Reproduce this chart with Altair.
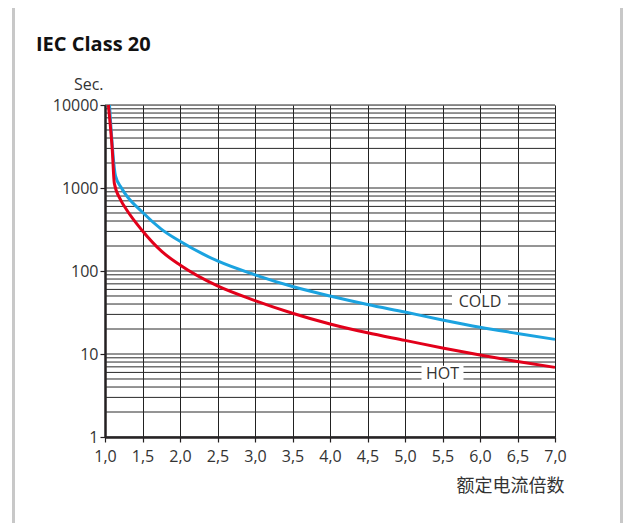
import altair as alt
import pandas as pd

# ---- data ----
cold_x = [1.06, 1.14, 1.22, 1.5, 1.75, 2.0, 2.5, 3.0, 3.5, 4.0, 4.5, 5.0, 5.5, 6.0, 6.5, 7.0]
cold_y = [10000, 1400, 1000, 510, 320, 228, 132, 90, 65, 50, 39.5, 32, 25.7, 21, 17.7, 15]

hot_x = [1.045, 1.097, 1.124, 1.21, 1.29, 1.49, 1.76, 2.0, 2.5, 3.0, 3.5, 4.0, 4.5, 5.0, 5.5, 6.0, 6.5, 7.0]
hot_y = [10000, 2870, 1140, 716, 543, 312, 171, 118, 66, 44, 31, 23, 18, 14.6, 11.8, 9.7, 8.1, 6.9]

x_ticks = [1.0, 1.5, 2.0, 2.5, 3.0, 3.5, 4.0, 4.5, 5.0, 5.5, 6.0, 6.5, 7.0]
y_ticks = [1, 10, 100, 1000, 10000]
grid_y = [1, 2, 3, 4, 5, 6, 7, 8, 9,
          10, 20, 30, 40, 50, 60, 70, 80, 90,
          100, 200, 300, 400, 500, 600, 700, 800, 900,
          1000, 2000, 3000, 4000, 5000, 6000, 7000, 8000, 9000,
          10000]

label_text = ["COLD", "HOT"]
label_x = [6.0, 5.5]
label_y = [42.7, 5.7]

BLUE = "#1ba3e0"
RED = "#e2001a"
FONT = "Open Sans"

curves = pd.concat([
    pd.DataFrame({"x": cold_x, "y": cold_y, "s": "COLD"}),
    pd.DataFrame({"x": hot_x, "y": hot_y, "s": "HOT"}),
])
grid_df = pd.DataFrame({"y": grid_y})
lab_df = pd.DataFrame({"x": label_x, "y": label_y, "t": label_text})

xs = alt.Scale(domain=[1, 7], nice=False)
ys = alt.Scale(type="log", domain=[1, 10000], nice=False)

x_axis = alt.Axis(
    values=x_ticks, grid=True, gridColor="#222", gridWidth=1, gridOpacity=1,
    domainColor="#231f20", domainWidth=2.5, tickColor="#231f20", tickSize=5, tickWidth=1.2,
    labelFont=FONT, labelFontSize=16, labelColor="#333", labelPadding=6,
    labelOverlap=False, labelFlush=False, labelBound=False,
    labelExpr="replace(format(datum.value, '.1f'), '.', ',')",
    title="额定电流倍数", titleFont="Noto Sans CJK SC", titleFontSize=18,
    titleFontWeight="normal", titleColor="#333", titleAlign="right",
    titleX=459, titleY=54, titleBaseline="alphabetic",
)
y_axis = alt.Axis(
    values=y_ticks, grid=False, format="d",
    domainColor="#231f20", domainWidth=2.5, tickColor="#231f20", tickSize=5, tickWidth=1.2,
    labelFont=FONT, labelFontSize=16, labelColor="#333", labelPadding=2,
    labelOverlap=False, labelFlush=False,
    title="Sec.", titleFont=FONT, titleFontSize=16, titleFontWeight="normal",
    titleColor="#333", titleAngle=0, titleAlign="right", titleX=-2, titleY=-16,
    titleBaseline="alphabetic",
)

frame = alt.Chart(pd.DataFrame({"a": [0]})).mark_rect(
    fill=None, stroke="#c8c8c8", strokeWidth=3
).encode(
    x=alt.value(-91.5), x2=alt.value(516.5), y=alt.value(-99.5), y2=alt.value(450)
)

hgrid = alt.Chart(grid_df).mark_rule(color="#2a2a2a", strokeWidth=1).encode(
    y=alt.Y("y:Q", scale=ys, axis=y_axis)
)

box_cold = alt.Chart(lab_df[lab_df.t == "COLD"]).mark_rect(fill="white", width=56, height=17).encode(
    x=alt.X("x:Q", scale=xs, axis=x_axis), y=alt.Y("y:Q", scale=ys, axis=y_axis)
)
box_hot = alt.Chart(lab_df[lab_df.t == "HOT"]).mark_rect(fill="white", width=42, height=17).encode(
    x=alt.X("x:Q", scale=xs, axis=x_axis), y=alt.Y("y:Q", scale=ys, axis=y_axis)
)

lines = alt.Chart(curves).mark_line(strokeWidth=3, interpolate="monotone").encode(
    x=alt.X("x:Q", scale=xs, axis=x_axis),
    y=alt.Y("y:Q", scale=ys, axis=y_axis),
    color=alt.Color("s:N", scale=alt.Scale(domain=["COLD", "HOT"], range=[BLUE, RED]), legend=None),
    order=alt.Order("x:Q"),
)

texts = alt.Chart(lab_df).mark_text(font=FONT, fontSize=16, color="#333", baseline="middle", align="center").encode(
    x=alt.X("x:Q", scale=xs, axis=x_axis), y=alt.Y("y:Q", scale=ys, axis=y_axis), text="t:N"
)

chart = alt.layer(frame, hgrid, box_cold, box_hot, lines, texts).properties(
    width=450, height=332,
    autosize=alt.AutoSizeParams(type="none"),
    padding={"left": 97, "top": 97, "right": 68, "bottom": 86},
    title=alt.TitleParams(
        "IEC Class 20", anchor="start", frame="group", dx=-69, dy=67, offset=0,
        baseline="alphabetic",
        font=FONT, fontSize=20, fontWeight="bold", color="#111",
    ),
).configure_view(stroke=None).configure_axis(labelOverlap=False).configure(background="white")

chart.save("out.html", embed_options={"renderer": "svg", "actions": False})
